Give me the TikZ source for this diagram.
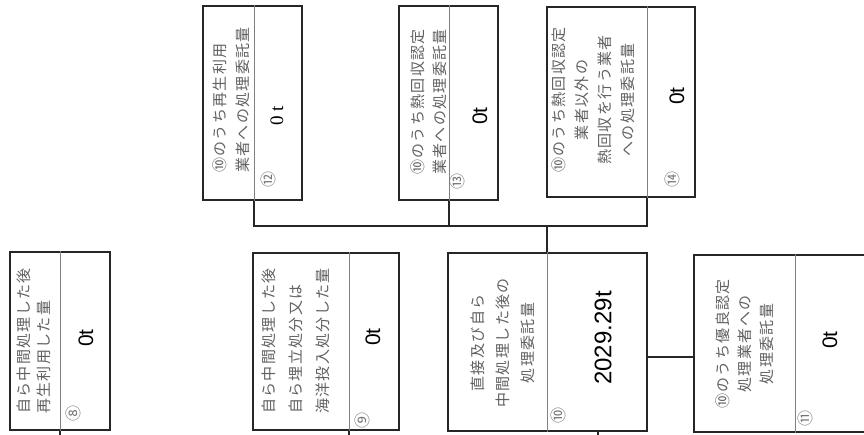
\documentclass[tikz,border=0pt]{standalone}
\usepackage{fontspec}
\setmainfont{Liberation Sans}
\newfontfamily\jp{Noto Sans CJK JP}[LetterSpace=9]
\newfontfamily\jpnum{Noto Sans CJK JP}
\newfontfamily\serifval{Liberation Serif}
\tikzset{
  box/.style={draw=black!85, line width=1.1pt, rectangle, inner sep=0pt},
  divider/.style={draw=black!50, line width=0.6pt},
  conn/.style={draw=black!85, line width=1.1pt},
  lbl/.style={rotate=90, text=black!62, inner sep=0pt},
  val/.style={rotate=90, font=\fontsize{21}{24}\selectfont, text=black, inner sep=0pt},
  num/.style={rotate=90, font=\jpnum\fontsize{16}{17}\selectfont, text=black!55, inner sep=0pt}
}
\newcommand{\jpl}[1]{\jp\fontsize{15}{#1}\selectfont}
\begin{document}
\begin{tikzpicture}[x=1pt,y=-1pt]
\clip (0,0) rectangle (864,435);
\fill[white] (0,0) rectangle (864,435);
% divider positions
\coordinate (d8) at (60,0);
\coordinate (d9) at (349,0);
\coordinate (d10) at (547,0);
\coordinate (d11) at (795,0);
\coordinate (d12) at (254,0);
\coordinate (d13) at (449,0);
\coordinate (d14) at (647,0);
% boxes
\node[box, minimum width=100pt, minimum height=178pt] (b8) at (60,341) {};
\node[box, minimum width=146pt, minimum height=177pt] (b9) at (326,341.5) {};
\node[box, minimum width=199pt, minimum height=178pt] (b10) at (547.5,342) {};
\node[box, minimum width=201pt, minimum height=177pt] (b11) at (794.5,343.5) {};
\node[box, minimum width=99pt, minimum height=194pt] (b12) at (252.5,103) {};
\node[box, minimum width=99pt, minimum height=194pt] (b13) at (448.5,103) {};
\node[box, minimum width=148pt, minimum height=190pt] (b14) at (621,102) {};
% dividers
\foreach \n in {8,9,10,11,12,13,14}
  \draw[divider] (b\n.north -| d\n) -- (b\n.south -| d\n);
% labels
\node[lbl, align=left, font=\jpl{20}] (t8) at (34,341) {自ら中間処理した後\\再生利用した量};
\node[lbl, align=left, font=\jpl{27}] (t9) at (296,341) {自ら中間処理した後\\自ら埋立処分又は\\海洋投入処分した量};
\node[lbl, align=center, font=\jpl{25}] (t10) at (503,343) {直接及び自ら\\中間処理した後の\\処理委託量};
\node[lbl, align=center, font=\jpl{22}] (t11) at (745,344) {⑩のうち優良認定\\処理業者への\\処理委託量};
\node[lbl, align=left, font=\jpl{23}] (t12) at (231,100) {⑩のうち再生利用\\業者への処理委託量};
\node[lbl, align=left, font=\jpl{22}] (t13) at (429,102) {⑩のうち熱回収認定\\業者への処理委託量};
\node[lbl, align=center, font=\jpl{23}] (t14) at (593,100) {⑩のうち熱回収認定\\業者以外の\\熱回収を行う業者\\への処理委託量};
% values
\node[val] (v8) at (86,338) {0t};
\node[val] (v9) at (373,337) {0t};
\node[val, font=\fontsize{24}{28}\selectfont] (v10) at (603,338) {2029.29t};
\node[val] (v11) at (830,340) {0t};
\node[val, font=\serifval\fontsize{19}{22}\selectfont] (v12) at (277,116) {0 t};
\node[val] (v13) at (480,116) {0t};
\node[val] (v14) at (677,96) {0t};
% circled numbers
\node[num] (n8) at (73,413) {⑧};
\node[num] (n9) at (362,420) {⑨};
\node[num] (n10) at (558,415) {⑩};
\node[num] (n11) at (805,418) {⑪};
\node[num] (n12) at (268,180) {⑫};
\node[num] (n13) at (457,182) {⑬};
\node[num] (n14) at (672,180) {⑭};
% connectors
\coordinate (j) at (547,226);
\coordinate (h) at (0,357);
\coordinate (e8) at (60,440);
\coordinate (e9) at (349,440);
\coordinate (e10) at (598,440);
\draw[conn] (b12.south -| d12) -- (d12 |- j) -- (d14 |- j) -- (b14.south -| d14);
\draw[conn] (b13.south -| d13) -- (d13 |- j);
\draw[conn] (j) -- (j |- b10.north);
\draw[conn] (b10.east |- h) -- (b11.west |- h);
\draw[conn] (b8.south -| d8) -- (e8);
\draw[conn] (b9.south -| d9) -- (e9);
\draw[conn] (b10.south -| e10) -- (e10);
\end{tikzpicture}
\end{document}
